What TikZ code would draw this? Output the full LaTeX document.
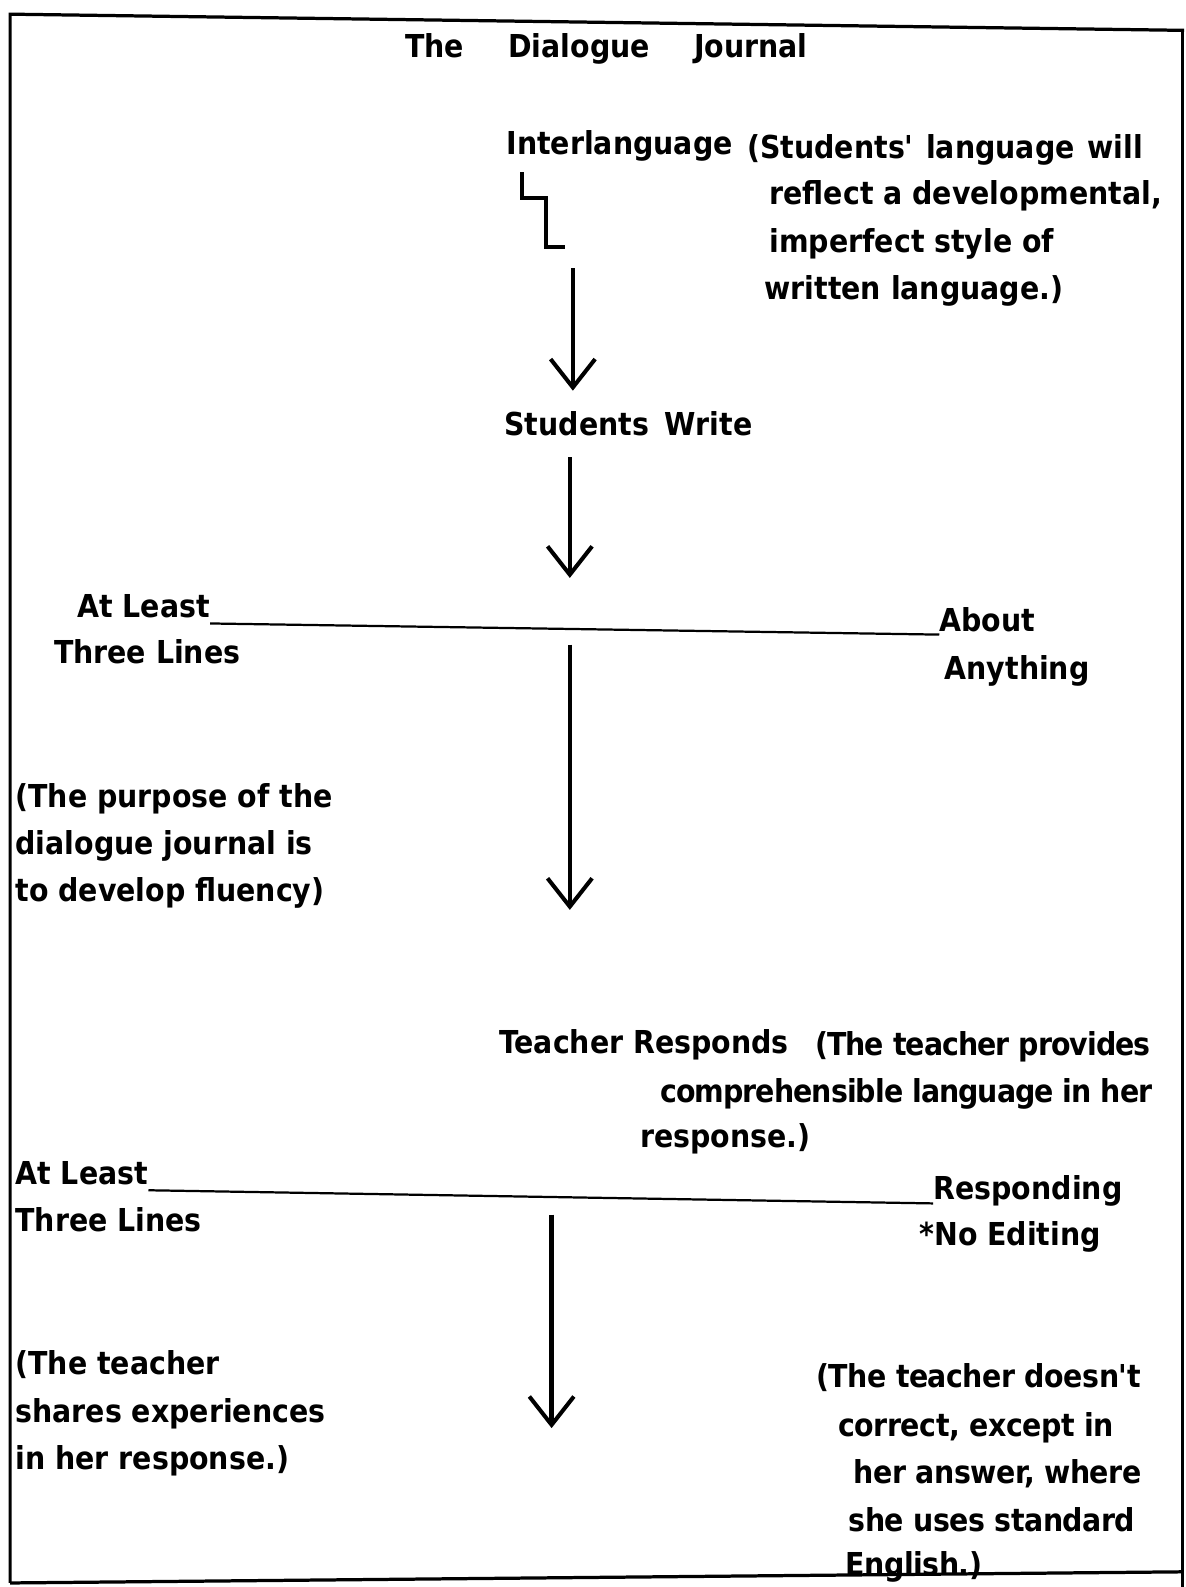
\documentclass[tikz,border=0pt]{standalone}
\usepackage{fontspec}
\setmainfont{DejaVu Sans}
\newfontfamily\djfont{DejaVu Sans Condensed}
\usetikzlibrary{arrows.meta}
\begin{document}
\begin{tikzpicture}[x=0.5pt,y=-0.5pt,
  txt/.style={anchor=base west,inner sep=0pt,font=\djfont\bfseries\fontsize{15.6pt}{23.5pt}\selectfont},
  tight/.style={font=\djfont\bfseries\fontsize{15.6pt}{23.5pt}\selectfont\addfontfeature{LetterSpace=-3}},
  snug/.style={font=\djfont\bfseries\fontsize{15.6pt}{23.5pt}\selectfont\addfontfeature{LetterSpace=-1.5}},
  flowarrow/.style={line width=2.3pt,-{Straight Barb[length=14pt,width=22pt,line width=2pt]}},
  uline/.style={line width=1.1pt},
  frame/.style={line width=1.6pt},
  stepline/.style={line width=2pt}]
\useasboundingbox (0,0) rectangle (1171,1568);
% frame
\draw[frame] (10,1564) -- (10,14) -- (1170,30);
\draw[frame] (1168,29) -- (1168,1568);
\draw[frame] (10,1564) -- (1168,1553);
% title
\node[txt] (title) at (400,57) {The\hspace{1.4em}Dialogue\hspace{1.4em}Journal};
% interlanguage
\node[txt] (inter) at (500,153) {Interlanguage};
\node[txt] (p1) at (738,157) {(Students'\hspace{0.4em}language\hspace{0.4em}will};
\node[txt] (p2) at (760,202) {reflect a developmental,};
\node[txt] (p3) at (760,249) {imperfect style of};
\node[txt] (p4) at (755,296) {written language.)};
\draw[stepline] (516,170) -- (516,196) -- (539,196) -- (539,244) -- (558,244);
\coordinate (a1s) at (566,265);
\coordinate (a1e) at (566,386);
\draw[flowarrow] (a1s) -- (a1e);
% students write
\node[txt] (write) at (498,430) {Students\hspace{0.5em}Write};
\coordinate (a2s) at (563,452);
\coordinate (a2e) at (563,571);
\draw[flowarrow] (a2s) -- (a2e);
% at least / about
\node[txt] (al1) at (76,610) {At Least};
\node[txt] (tl1) at (53,656) {Three Lines};
\node[txt] (about) at (928,624) {About};
\node[txt] (anything) at (933,671) {Anything};
\draw[uline] ([yshift=-3pt]al1.base east) -- ([yshift=-1.5pt]about.base west);
\coordinate (a3s) at (563,637);
\coordinate (a3e) at (563,899);
\draw[flowarrow] (a3s) -- (a3e);
% purpose
\node[txt] (pur1) at (15,798) {(The purpose of the};
\node[txt] (pur2) at (15,844) {dialogue journal is};
\node[txt] (pur3) at (15,891) {to develop fluency)};
% teacher responds
\node[txt] (tresp) at (493,1041) {Teacher Responds};
\node[txt,tight] (q1) at (805,1043) {(The teacher provides};
\node[txt,tight] (q2) at (652,1089) {comprehensible language in her};
\node[txt] (q3) at (632,1134) {response.)};
% at least / responding
\node[txt] (al2) at (15,1170) {At Least};
\node[txt] (tl2) at (15,1217) {Three Lines};
\node[txt] (resp) at (922,1185) {Responding};
\node[txt] (noed) at (908,1231) {*No Editing};
\draw[uline] ([yshift=-3pt]al2.base east) -- ([yshift=-2pt]resp.base west);
\coordinate (a4s) at (545,1200);
\coordinate (a4e) at (545,1411);
\draw[flowarrow] (a4s) -- (a4e);
% bottom notes
\node[txt] (sh1) at (15,1358) {(The teacher};
\node[txt] (sh2) at (15,1405) {shares experiences};
\node[txt] (sh3) at (15,1452) {in her response.)};
\node[txt,snug] (c1) at (806,1371) {(The teacher doesn't};
\node[txt,snug] (c2) at (828,1419) {correct, except in};
\node[txt,snug] (c3) at (843,1466) {her answer, where};
\node[txt,snug] (c4) at (838,1513) {she uses standard};
\node[txt,snug] (c5) at (835,1557) {English.)};
\end{tikzpicture}
\end{document}
